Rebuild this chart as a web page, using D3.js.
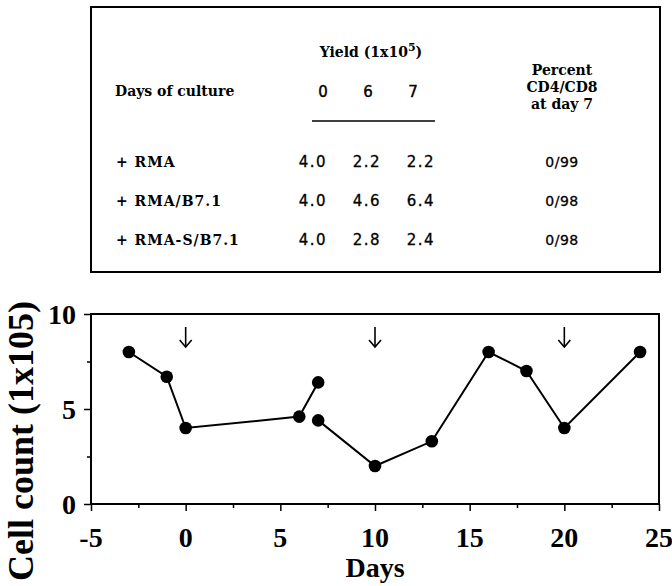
<!DOCTYPE html>
<html>
<head>
<meta charset="utf-8">
<script src="https://cdn.jsdelivr.net/npm/d3@7"></script>
<style>
  body { margin: 0; background: #fff; }
  svg { display: block; }
</style>
</head>
<body>
<div id="chart"></div>
<script>
// table data
const yieldDays = ['0', '6', '7'];
const conditions = ['+ RMA', '+ RMA/B7.1', '+ RMA-S/B7.1'];
const yields = [
  [4.0, 2.2, 2.2],
  [4.0, 4.6, 6.4],
  [4.0, 2.8, 2.4]
];
const ratios = ['0/99', '0/98', '0/98'];
const ratioHeader = ['Percent', 'CD4/CD8', 'at day 7'];

// time course, two runs
const days1 = [-3, -1, 0, 6, 7];
const counts1 = [8.0, 6.7, 4.0, 4.6, 6.4];
const days2 = [7, 10, 13, 16, 18, 20, 24];
const counts2 = [4.4, 2.0, 3.3, 8.0, 7.0, 4.0, 8.0];
const stimDays = [0, 10, 20];

const xTicks = [-5, 0, 5, 10, 15, 20, 25];
const yTicks = [0, 5, 10];

const width = 672, height = 586;
const svg = d3.select('#chart').append('svg')
  .attr('width', width)
  .attr('height', height);

// ---- table ----
const tbl = svg.append('g');
tbl.append('rect')
  .attr('x', 91).attr('y', 7)
  .attr('width', 569).attr('height', 265)
  .attr('fill', 'none').attr('stroke', '#000').attr('stroke-width', 2);

const serif = 'DejaVu Serif';
const sans = 'DejaVu Sans';

const head = tbl.append('text')
  .attr('x', 371).attr('y', 57)
  .attr('text-anchor', 'middle')
  .attr('font-family', serif).attr('font-weight', 'bold').attr('font-size', 14);
head.append('tspan').text('Yield (1x10');
head.append('tspan').attr('font-size', 11).attr('dy', -6).text('5');
head.append('tspan').attr('dy', 6).text(')');

tbl.append('text')
  .attr('x', 115).attr('y', 96)
  .attr('font-family', serif).attr('font-weight', 'bold').attr('font-size', 14)
  .text('Days of culture');

const hx = d3.scalePoint().domain(yieldDays).range([323, 413]);
const vx = d3.scalePoint().domain(yieldDays).range([313, 421]);
const ry = d3.scalePoint().domain(conditions).range([167, 245]);

tbl.selectAll('.hd').data(yieldDays).enter().append('text')
  .attr('x', d => hx(d)).attr('y', 97)
  .attr('text-anchor', 'middle')
  .attr('font-family', sans).attr('font-size', 15)
  .attr('stroke', '#000').attr('stroke-width', 0.4)
  .text(d => d);

tbl.append('line')
  .attr('x1', 312).attr('x2', 435).attr('y1', 121).attr('y2', 121)
  .attr('stroke', '#000').attr('stroke-width', 1.5);

tbl.selectAll('.ph').data(ratioHeader).enter().append('text')
  .attr('x', 562).attr('y', (d, i) => 75 + i * 17)
  .attr('text-anchor', 'middle')
  .attr('font-family', serif).attr('font-weight', 'bold').attr('font-size', 14)
  .text(d => d);

const rows = tbl.selectAll('.row').data(conditions).enter().append('g');
rows.append('text')
  .attr('x', 116).attr('y', d => ry(d))
  .attr('font-family', serif).attr('font-weight', 'bold').attr('font-size', 14)
  .attr('letter-spacing', 1)
  .text(d => d);
rows.each(function(c, i) {
  d3.select(this).selectAll('.v').data(yields[i]).enter().append('text')
    .attr('x', (d, j) => vx(yieldDays[j])).attr('y', ry(c))
    .attr('text-anchor', 'middle')
    .attr('font-family', sans).attr('font-size', 15).attr('letter-spacing', 1.5)
    .attr('stroke', '#000').attr('stroke-width', 0.3)
    .text(d => d.toFixed(1));
  d3.select(this).append('text')
    .attr('x', 562).attr('y', ry(c))
    .attr('text-anchor', 'middle')
    .attr('font-family', sans).attr('font-size', 14).attr('letter-spacing', 0.5)
    .attr('stroke', '#000').attr('stroke-width', 0.3)
    .text(ratios[i]);
});

// ---- chart ----
const plot = { left: 91, right: 659, top: 314, bottom: 504 };
const x = d3.scaleLinear().domain([-5, 25]).range([plot.left, plot.right]);
const y = d3.scaleLinear().domain([0, 10]).range([plot.bottom, plot.top]);

const chart = svg.append('g');
chart.append('rect')
  .attr('x', plot.left).attr('y', plot.top)
  .attr('width', plot.right - plot.left).attr('height', plot.bottom - plot.top)
  .attr('fill', 'none').attr('stroke', '#000').attr('stroke-width', 2);

const xAxis = d3.axisBottom(x).tickValues(d3.range(-5, 25.1, 2.5))
  .tickSize(0).tickFormat('');
chart.append('g').attr('transform', `translate(0,${plot.bottom})`).call(xAxis)
  .call(g => g.select('.domain').remove())
  .selectAll('.tick line')
  .attr('y2', d => d % 5 === 0 ? 7 : 4)
  .attr('stroke-width', 1.5);

const yAxis = d3.axisLeft(y).tickValues(d3.range(0, 10.1, 2.5))
  .tickSize(0).tickFormat('');
chart.append('g').attr('transform', `translate(${plot.left},0)`).call(yAxis)
  .call(g => g.select('.domain').remove())
  .selectAll('.tick line')
  .attr('x2', d => d % 5 === 0 ? -7 : -4)
  .attr('stroke-width', 1.5);

const tickFont = 'Liberation Serif';
chart.selectAll('.xl').data(xTicks).enter().append('text')
  .attr('x', d => x(d)).attr('y', 547)
  .attr('text-anchor', 'middle')
  .attr('font-family', tickFont).attr('font-weight', 'bold').attr('font-size', 28)
  .text(d => d);

chart.selectAll('.yl').data(yTicks).enter().append('text')
  .attr('x', 76).attr('y', d => y(d)).attr('dy', '0.35em')
  .attr('text-anchor', 'end')
  .attr('font-family', tickFont).attr('font-weight', 'bold').attr('font-size', 28)
  .text(d => d);

chart.append('text')
  .attr('x', (plot.left + plot.right) / 2).attr('y', 577)
  .attr('text-anchor', 'middle')
  .attr('font-family', tickFont).attr('font-weight', 'bold').attr('font-size', 28)
  .text('Days');

chart.append('text')
  .attr('transform', 'translate(33,441) rotate(-90)')
  .attr('text-anchor', 'middle')
  .attr('font-family', tickFont).attr('font-weight', 'bold').attr('font-size', 36)
  .text('Cell count (1x105)');

// stimulation arrows
const arrows = chart.selectAll('.arrow').data(stimDays).enter().append('g')
  .attr('transform', d => `translate(${x(d)},0)`)
  .attr('fill', 'none').attr('stroke', '#000').attr('stroke-width', 1.6);
arrows.append('line').attr('y1', 327).attr('y2', 347);
arrows.append('path').attr('d', 'M-6,340L0,347L6,340');

// series
const line = d3.line().x(d => x(d[0])).y(d => y(d[1]));
[[days1, counts1], [days2, counts2]].forEach(([ds, cs]) => {
  const pts = ds.map((d, i) => [d, cs[i]]);
  chart.append('path').datum(pts)
    .attr('d', line)
    .attr('fill', 'none').attr('stroke', '#000').attr('stroke-width', 2);
  chart.selectAll(null).data(pts).enter().append('circle')
    .attr('cx', d => x(d[0])).attr('cy', d => y(d[1]))
    .attr('r', 6.3).attr('fill', '#000');
});
</script>
</body>
</html>
